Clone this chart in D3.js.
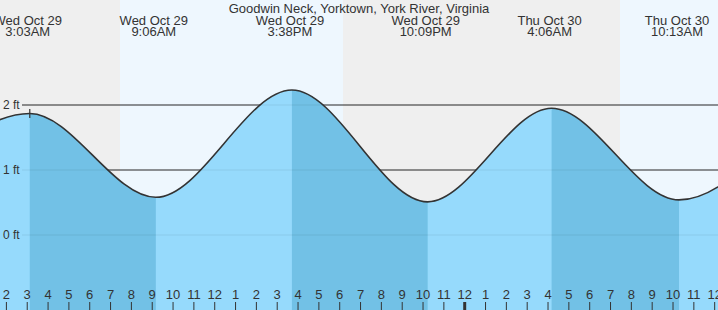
<!DOCTYPE html>
<html>
<head>
<meta charset="utf-8">
<script src="https://cdn.jsdelivr.net/npm/d3@7"></script>
<style>
  body { margin: 0; background: #fff; }
  svg { display: block; font-family: "Liberation Sans", Arial, sans-serif; }
  .lbl { fill: #333; font-size: 13px; }
</style>
</head>
<body>
<div id="container"></div>
<script>
const width = 718, height = 310;
const title = "Goodwin Neck, Yorktown, York River, Virginia";

// tide extremes (first and last ones are just off the chart)
const tideTimes = [
  new Date(2025, 9, 28, 20, 41),
  new Date(2025, 9, 29, 3, 3),
  new Date(2025, 9, 29, 9, 6),
  new Date(2025, 9, 29, 15, 38),
  new Date(2025, 9, 29, 22, 9),
  new Date(2025, 9, 30, 4, 6),
  new Date(2025, 9, 30, 10, 13),
  new Date(2025, 9, 30, 16, 30)
];
const tideHeights = [0.55, 1.87, 0.58, 2.23, 0.51, 1.95, 0.54, 2.2];
const tideLabels = [null, ["Wed Oct 29", "3:03AM"], ["Wed Oct 29", "9:06AM"], ["Wed Oct 29", "3:38PM"],
  ["Wed Oct 29", "10:09PM"], ["Thu Oct 30", "4:06AM"], ["Thu Oct 30", "10:13AM"], null];

// daylight periods
const sunrise = [new Date(2025, 9, 29, 7, 23), new Date(2025, 9, 30, 7, 23)];
const sunset = [new Date(2025, 9, 29, 18, 5), new Date(2025, 9, 30, 18, 4)];

const feetTicks = [0, 1, 2];

const x = d3.scaleTime()
  .domain([new Date(2025, 9, 29, 1, 43), new Date(2025, 9, 30, 12, 11)])
  .range([0, width]);
const y = d3.scaleLinear().domain([0, 2]).range([235, 105]);

const svg = d3.select("#container").append("svg")
  .attr("width", width).attr("height", height);

svg.append("rect").attr("width", width).attr("height", height).attr("fill", "#efefef");

const plot = svg.append("g").attr("transform", "translate(2,0)");

// daylight bands
plot.selectAll("rect.day")
  .data(sunrise)
  .join("rect")
  .attr("class", "day")
  .attr("x", (d, i) => x(d))
  .attr("width", (d, i) => x(sunset[i]) - x(d))
  .attr("y", 0).attr("height", height)
  .attr("fill", "#eef7fe");

// grid lines behind the water
const gridBack = svg.append("g");
gridBack.selectAll("line")
  .data(feetTicks)
  .join("line")
  .attr("x1", 22).attr("x2", width)
  .attr("y1", d => y(d)).attr("y2", d => y(d))
  .attr("stroke", "#333").attr("stroke-width", 1.2);

const pts = tideTimes.map((t, i) => [t, tideHeights[i]]);

const area = d3.area()
  .x(d => x(d[0])).y0(height).y1(d => y(d[1]))
  .curve(d3.curveMonotoneX);
const line = d3.line()
  .x(d => x(d[0])).y(d => y(d[1]))
  .curve(d3.curveMonotoneX);

const water = svg.append("g").attr("transform", "translate(2,0)");

water.append("clipPath").attr("id", "water")
  .append("path").attr("d", area(pts));

water.append("path").attr("d", area(pts)).attr("fill", "#96dafc");

// falling tide shading (high -> next low)
const falls = d3.range(tideTimes.length - 1).filter(i => tideHeights[i] > tideHeights[i + 1]);
water.append("g").attr("clip-path", "url(#water)")
  .selectAll("rect")
  .data(falls)
  .join("rect")
  .attr("x", i => x(tideTimes[i]))
  .attr("width", i => x(tideTimes[i + 1]) - x(tideTimes[i]))
  .attr("y", 0).attr("height", height)
  .attr("fill", "#72c1e6");

// faint grid lines over the water
svg.append("g").selectAll("line")
  .data(feetTicks)
  .join("line")
  .attr("x1", 22).attr("x2", width)
  .attr("y1", d => y(d)).attr("y2", d => y(d))
  .attr("stroke", "#000").attr("stroke-opacity", 0.07);

water.append("path").attr("d", line(pts))
  .attr("fill", "none").attr("stroke", "#333").attr("stroke-width", 1.6);

// marker on the first high
water.append("line")
  .attr("x1", x(tideTimes[1])).attr("x2", x(tideTimes[1]))
  .attr("y1", y(tideHeights[1]) - 4.5).attr("y2", y(tideHeights[1]) + 4.5)
  .attr("stroke", "#333").attr("stroke-width", 1.2);

// y labels
svg.selectAll("text.ft")
  .data(feetTicks)
  .join("text")
  .attr("class", "lbl ft")
  .attr("x", 3).attr("y", d => y(d)).attr("dy", "0.35em")
  .style("font-size", "12px")
  .text(d => d + " ft");

// title + event labels
svg.append("text").attr("class", "lbl")
  .attr("x", 359).attr("y", 13).attr("text-anchor", "middle")
  .text(title);

const ev = svg.selectAll("text.ev")
  .data(tideTimes.filter((t, i) => tideLabels[i]))
  .join("text")
  .attr("class", "lbl ev")
  .attr("text-anchor", "middle");
ev.append("tspan").attr("x", d => x(d)).attr("y", 25)
  .text(d => tideLabels[tideTimes.indexOf(d)][0]);
ev.append("tspan").attr("x", d => x(d)).attr("y", 36)
  .text(d => tideLabels[tideTimes.indexOf(d)][1]);

// hour axis
const hourFmt = d3.timeFormat("%-I");
const axis = svg.append("g")
  .attr("transform", `translate(0,${height})`)
  .call(d3.axisTop(x).ticks(d3.timeHour.every(1)).tickSize(8).tickPadding(3).tickFormat(hourFmt));
axis.select(".domain").remove();
axis.selectAll(".tick line")
  .attr("stroke", "#333")
  .attr("stroke-width", d => d.getHours() === 0 ? 3 : 1);
axis.selectAll(".tick text")
  .attr("fill", "#333")
  .style("font-size", "13px")
  .style("font-family", "'Liberation Sans', Arial, sans-serif");
</script>
</body>
</html>
